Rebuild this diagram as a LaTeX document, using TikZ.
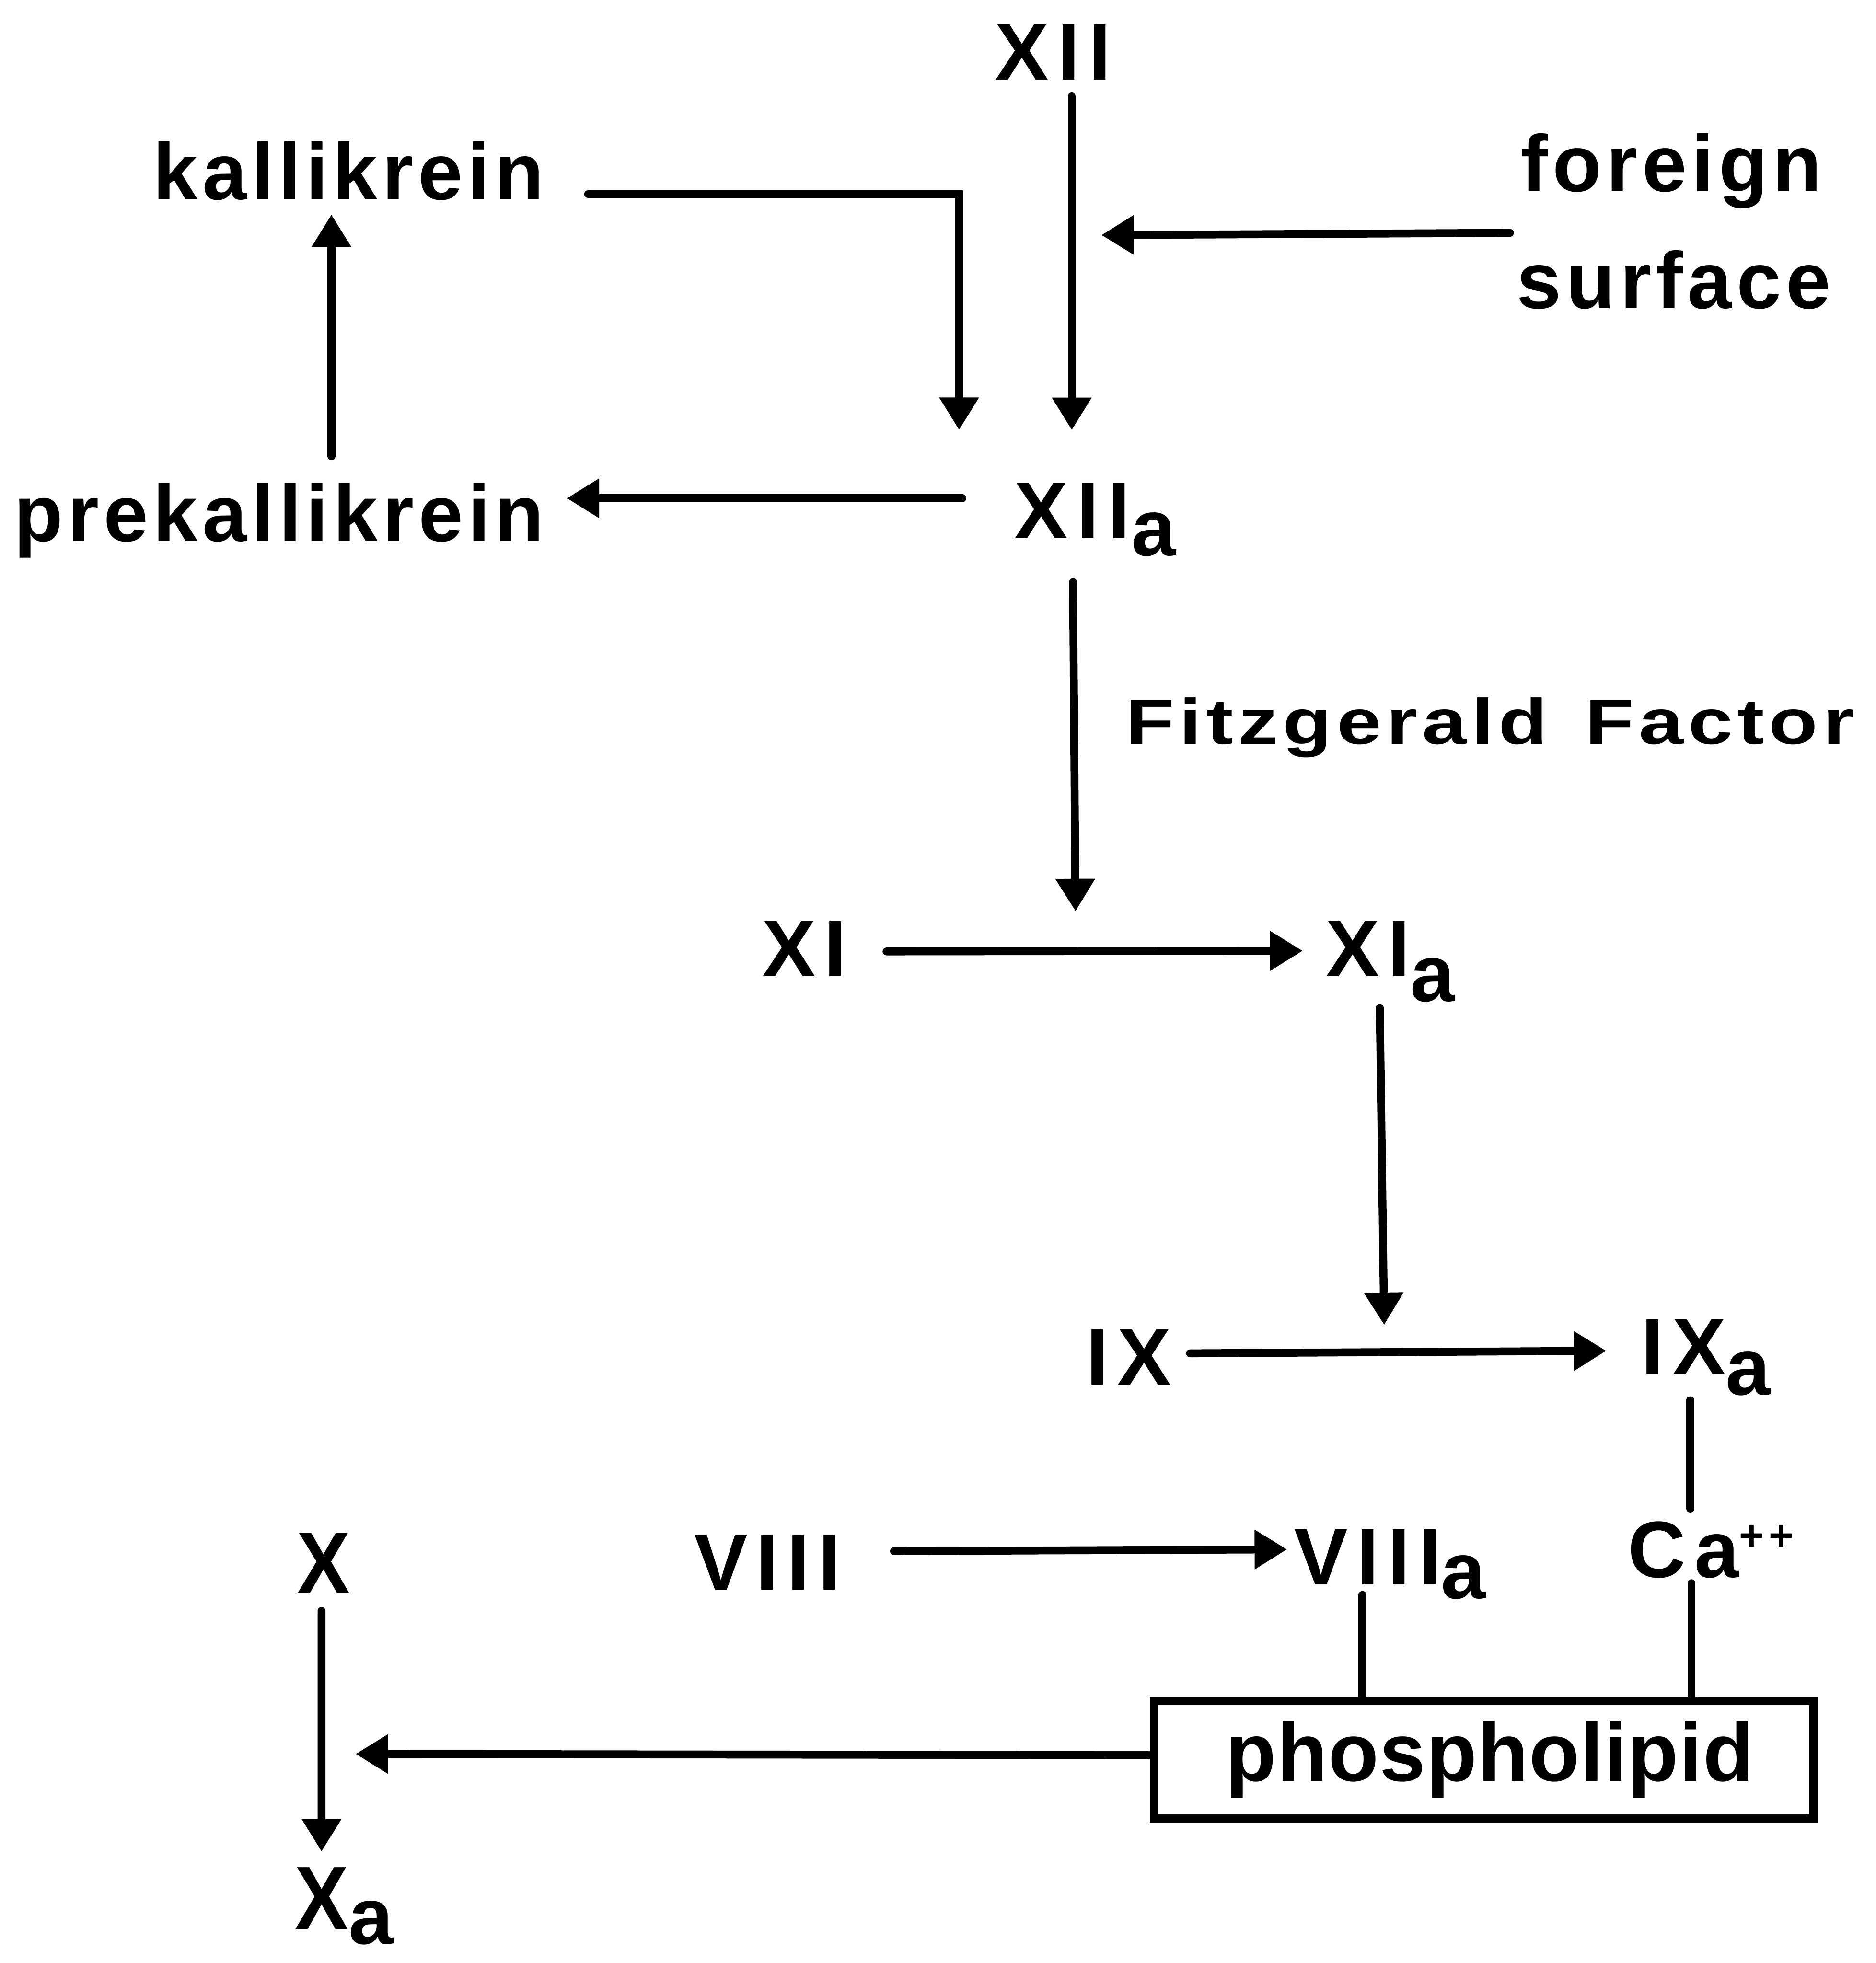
\documentclass[tikz,border=0pt]{standalone}
\usepackage{fontspec}
\usepackage{graphicx}
\setmainfont{Liberation Sans}
\newfontfamily\numfont{Liberation Sans}[LetterSpace=11]
\newfontfamily\wordfont{Liberation Sans}[LetterSpace=6]
\newfontfamily\phosfont{Liberation Sans}[LetterSpace=1]
\usetikzlibrary{arrows.meta}
\newcommand\lowa[1]{\raisebox{-#1pt}{a}}
\begin{document}
\begin{tikzpicture}[x=1pt,y=-1pt,
  lbl/.style={inner sep=0pt, anchor=base},
  num/.style={lbl, font=\numfont\bfseries\fontsize{64}{70}\selectfont},
  word/.style={lbl, font=\wordfont\bfseries\fontsize{64}{70}\selectfont},
  arr/.style={line width=6.3pt, line cap=round, -{Triangle[length=26pt,width=30pt]}},
  ln/.style={line width=6.3pt, line cap=round},
  box/.style={draw, line width=6.5pt, inner sep=0pt, minimum width=526.5pt, minimum height=93.8pt,
    font=\phosfont\bfseries\fontsize{66}{72}\selectfont}]
\path[fill=white, use as bounding box] (0,0) rectangle (1498,1568);

\node[num] (xii) at (841.2,63.6) {XII};
\node[word] (kal) at (278.3,159.3) {kallikrein};
\node[word] (fore) at (1334.9,152.8) {foreign};
\node[word] (surf) at (1336.9,246.3) {surface};
\node[word] (pre) at (222.9,432.5) {prekallikrein};
\node[num] (xiia) at (874.8,430) {XII\hspace{1pt}\lowa{13.7}};
\node[word] (fitz) at (1190,594.4) {\scalebox{1}[0.8]{Fitzgerald\hspace{30pt}Factor}};
\node[num] (xi) at (642.5,780) {XI};
\node[num] (xia) at (1110.4,779.8) {XI\lowa{20}};
\node[num] (ix) at (901.5,1106) {IX};
\node[num] (ixa) at (1362.5,1098) {IX\lowa{16}};
\node[num] (ca) at (1366.4,1260) {Ca\raisebox{22pt}{\fontsize{34}{34}\selectfont ++}};
\node[num] (x) at (258.5,1273) {\scalebox{1}[1.1]{X}};
\node[num] (viii) at (612.9,1270) {VIII};
\node[num] (viiia) at (1110.2,1265.9) {VIII\lowa{11}};
\node[num] (xa) at (274.9,1541) {\scalebox{1}[1.12]{X}\lowa{12}};
\node[box] (phos) at (1185,1405.7) {\hspace{9.6pt}phospholipid};

\draw[arr] ([shift={(14.8,13.4)}]xii.base) -- ([shift={(-18.8,-86.4)}]xiia.base);
\draw[arr] ([shift={(-129,33.2)}]fore.base) -- ([shift={(38.4,124.2)}]xii.base);
\draw[arr] ([shift={(191.4,-4.3)}]kal.base) -| ([shift={(-108.8,-86.5)}]xiia.base);
\draw[arr] ([shift={(-106.2,-32)}]xiia.base) -- ([shift={(229.7,-34.5)}]pre.base);
\draw[arr] ([shift={(41.8,-68.1)}]pre.base) -- ([shift={(-13.6,12)}]kal.base);
\draw[arr] ([shift={(-17.8,35)}]xiia.base) -- ([shift={(216.5,-52)}]xi.base);
\draw[arr] ([shift={(65.5,-20)}]xi.base) -- ([shift={(-69.9,-20.3)}]xia.base);
\draw[arr] ([shift={(-8.4,25.2)}]xia.base) -- ([shift={(204,-47.6)}]ix.base);
\draw[arr] ([shift={(49,-25)}]ix.base) -- ([shift={(-79.5,-19)}]ixa.base);
\draw[ln] ([shift={(-12.5,20.5)}]ixa.base) -- ([shift={(-16.4,-55)}]ca.base);
\draw[ln] ([shift={(-15.4,4.6)}]ca.base) -- ([shift={(166,0)}]phos.north);
\draw[ln] ([shift={(-22,8.1)}]viiia.base) -- ([shift={(-96.8,0)}]phos.north);
\draw[arr] ([shift={(101.1,-31)}]viii.base) -- ([shift={(-82.2,-28.3)}]viiia.base);
\draw[arr] ([shift={(0,-3.7)}]phos.west) -- ([shift={(25.5,128)}]x.base);
\draw[arr] ([shift={(-1.7,13.7)}]x.base) -- ([shift={(-18.1,-62)}]xa.base);
\end{tikzpicture}
\end{document}
